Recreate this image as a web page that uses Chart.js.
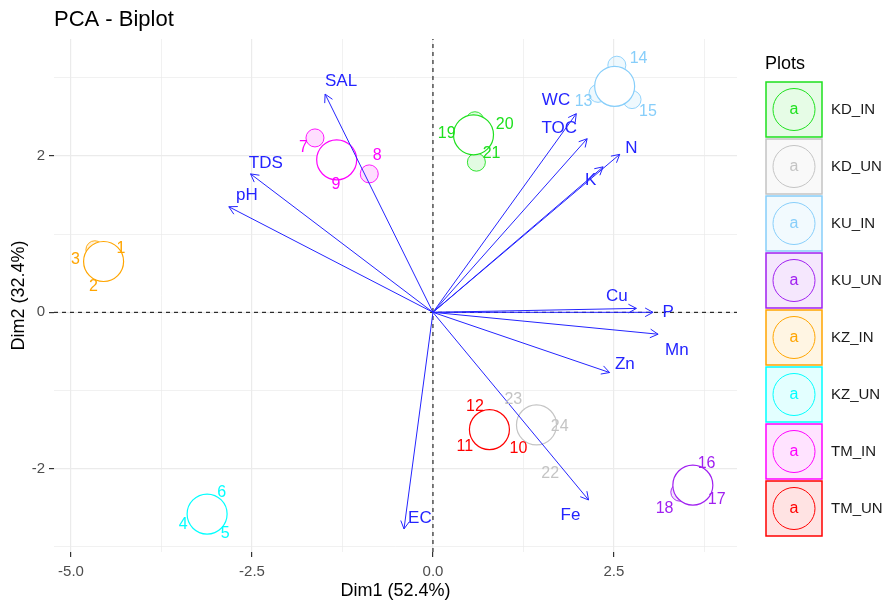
<!DOCTYPE html>
<html>
<head>
<meta charset="utf-8">
<script src="https://cdn.jsdelivr.net/npm/chart.js@4"></script>
<style>
  body { margin: 0; background: #fff; }
</style>
</head>
<body>
<canvas id="biplot" width="888" height="607"></canvas>
<script>
// groups (habillage)
const groups = ['KD_IN', 'KD_UN', 'KU_IN', 'KU_UN', 'KZ_IN', 'KZ_UN', 'TM_IN', 'TM_UN'];
const groupColors = ['#1EE01E', '#C4C4C4', '#87CEFA', '#A020F0', '#FFA500', '#00FFFF', '#FF00FF', '#FF0000'];
const centerX = [0.56, 1.43, 2.51, 3.59, -4.55, -3.12, -1.33, 0.78];
const centerY = [2.27, -1.44, 2.89, -2.21, 0.65, -2.58, 1.95, -1.50];

// individuals (labels)
const indNames = ['1','2','3','4','5','6','7','8','9','10','11','12',
                  '13','14','15','16','17','18','19','20','21','22','23','24'];
const indGroup = [4,4,4, 5,5,5, 6,6,6, 7,7,7, 2,2,2, 3,3,3, 0,0,0, 1,1,1];
const indX = [-4.31,-4.69,-4.94, -3.45,-2.87,-2.92, -1.79,-0.77,-1.34, 1.18,0.44,0.58,
              2.08,2.84,2.97, 3.78,3.92,3.20, 0.19,0.99,0.81, 1.62,1.11,1.75];
const indY = [0.82,0.33,0.67, -2.72,-2.83,-2.31, 2.10,2.01,1.63, -1.74,-1.72,-1.21,
              2.69,3.25,2.57, -1.93,-2.40,-2.51, 2.29,2.40,2.03, -2.06,-1.12,-1.46];

// small ellipse remnants around the group circles
const ellGroup = [6, 6, 0, 0, 2, 2, 2, 4, 3];
const ellX = [-1.63, -0.88, 0.58, 0.60, 2.54, 2.28, 2.75, -4.67, 3.41];
const ellY = [2.23, 1.77, 2.45, 1.92, 3.16, 2.80, 2.72, 0.80, -2.30];

// variables (arrows)
const varNames = ['SAL','TDS','pH','WC','TOC','N','K','Cu','P','Mn','Zn','Fe','EC'];
const varX = [-1.49,-2.52,-2.82,1.98,2.13,2.58,2.35,2.81,3.04,3.11,2.44,2.15,-0.40];
const varY = [2.79,1.77,1.35,2.54,2.22,2.02,1.86,0.05,0.00,-0.28,-0.77,-2.40,-2.77];
const varLabelX = [-1.27,-2.31,-2.57,1.70,1.745,2.74,2.18,2.54,3.25,3.37,2.65,1.90,-0.18];
const varLabelY = [2.96,1.91,1.50,2.71,2.35,2.10,1.69,0.20,0.00,-0.48,-0.67,-2.59,-2.64];

// axes
const xMajor = [-5, -2.5, 0, 2.5];
const xTicks = [-5, -3.75, -2.5, -1.25, 0, 1.25, 2.5, 3.75];
const yMajor = [-2, 0, 2];
const yTicks = [-3, -2, -1, 0, 1, 2, 3];
const xRange = [-5.235, 4.2];
const yRange = [-3.065, 3.495];

const FONT = "'Liberation Sans', Arial, sans-serif";
const BLUE = '#2424FF';
Chart.defaults.font.family = FONT;

function alpha(hex, a) {
  const n = parseInt(hex.slice(1), 16);
  return `rgba(${n >> 16},${(n >> 8) & 255},${n & 255},${a})`;
}

const datasets = [];
// dashed reference lines
datasets.push({
  type: 'line', data: [{x: 0, y: yRange[0]}, {x: 0, y: yRange[1]}],
  borderColor: '#000', borderWidth: 1, borderDash: [4, 4], pointRadius: 0, order: 40
});
datasets.push({
  type: 'line', data: [{x: xRange[0], y: 0}, {x: xRange[1], y: 0}],
  borderColor: '#000', borderWidth: 1, borderDash: [4, 4], pointRadius: 0, order: 40
});
// ellipse remnants
datasets.push({
  type: 'scatter',
  data: ellX.map((x, i) => ({x: x, y: ellY[i]})),
  pointRadius: 9,
  backgroundColor: ellGroup.map(g => alpha(groupColors[g], 0.13)),
  borderColor: ellGroup.map(g => groupColors[g]),
  borderWidth: 0.9, order: 30
});
// group circles
datasets.push({
  type: 'scatter',
  data: centerX.map((x, i) => ({x: x, y: centerY[i]})),
  pointRadius: 20,
  backgroundColor: '#fff',
  borderColor: groupColors,
  borderWidth: 1.2, order: 20
});
// arrows
varNames.forEach((v, i) => {
  datasets.push({
    type: 'line', data: [{x: 0, y: 0}, {x: varX[i], y: varY[i]}],
    borderColor: BLUE, borderWidth: 1, pointRadius: 0, order: 10
  });
});

const textPlugin = {
  id: 'texts',
  afterDatasetsDraw(chart) {
    const {ctx, scales: {x, y}} = chart;
    ctx.save();
    // arrow heads
    ctx.strokeStyle = BLUE;
    ctx.lineWidth = 1;
    varNames.forEach((v, i) => {
      const px = x.getPixelForValue(varX[i]), py = y.getPixelForValue(varY[i]);
      const ox = x.getPixelForValue(0), oy = y.getPixelForValue(0);
      const ang = Math.atan2(py - oy, px - ox);
      const len = 9;
      ctx.beginPath();
      ctx.moveTo(px - len * Math.cos(ang - 0.5), py - len * Math.sin(ang - 0.5));
      ctx.lineTo(px, py);
      ctx.lineTo(px - len * Math.cos(ang + 0.5), py - len * Math.sin(ang + 0.5));
      ctx.stroke();
    });
    ctx.textAlign = 'center';
    ctx.textBaseline = 'middle';
    // individual labels
    ctx.font = '16px ' + FONT;
    indNames.forEach((n, i) => {
      ctx.fillStyle = groupColors[indGroup[i]];
      ctx.fillText(n, x.getPixelForValue(indX[i]), y.getPixelForValue(indY[i]));
    });
    // variable labels
    ctx.font = '17px ' + FONT;
    ctx.fillStyle = BLUE;
    varNames.forEach((n, i) => {
      ctx.fillText(n, x.getPixelForValue(varLabelX[i]), y.getPixelForValue(varLabelY[i]));
    });
    ctx.restore();
  },
  afterDraw(chart) {
    const ctx = chart.ctx;
    ctx.save();
    // title
    ctx.fillStyle = '#000';
    ctx.font = '22px ' + FONT;
    ctx.textAlign = 'left';
    ctx.textBaseline = 'alphabetic';
    ctx.fillText('PCA - Biplot', 54, 26);
    // legend
    const lx = chart.chartArea.right + 29;
    ctx.font = '18px ' + FONT;
    ctx.textBaseline = 'middle';
    ctx.fillText('Plots', lx - 1, 64);
    groups.forEach((g, i) => {
      const top = 82 + i * 57;
      const col = groupColors[i];
      ctx.fillStyle = alpha(col, 0.11);
      ctx.fillRect(lx, top, 56, 55);
      ctx.strokeStyle = col;
      ctx.lineWidth = 1.5;
      ctx.strokeRect(lx, top, 56, 55);
      ctx.lineWidth = 1;
      ctx.beginPath();
      ctx.arc(lx + 28, top + 27.5, 21, 0, Math.PI * 2);
      ctx.stroke();
      ctx.fillStyle = col;
      ctx.font = '16px ' + FONT;
      ctx.textAlign = 'center';
      ctx.fillText('a', lx + 28, top + 28);
      ctx.fillStyle = '#1A1A1A';
      ctx.font = '15px ' + FONT;
      ctx.textAlign = 'left';
      ctx.fillText(g, lx + 65, top + 28);
    });
    ctx.restore();
  }
};

new Chart(document.getElementById('biplot'), {
  type: 'scatter',
  data: {datasets: datasets},
  plugins: [textPlugin],
  options: {
    responsive: false,
    animation: false,
    events: [],
    layout: {padding: {left: 0, right: 151, top: 39, bottom: 0}},
    plugins: {legend: {display: false}, tooltip: {enabled: false}},
    scales: {
      x: {
        type: 'linear', min: xRange[0], max: xRange[1],
        afterBuildTicks: s => { s.ticks = xTicks.map(v => ({value: v})); },
        afterFit: s => { s.height = 55; },
        border: {display: false},
        grid: {
          color: '#EBEBEB',
          lineWidth: c => xMajor.includes(c.tick.value) ? 1.2 : 0.7,
          tickColor: c => xMajor.includes(c.tick.value) ? '#333333' : 'rgba(0,0,0,0)',
          tickLength: 5
        },
        ticks: {
          color: '#4D4D4D', font: {size: 15}, padding: 6, maxRotation: 0, autoSkip: false,
          callback: v => xMajor.includes(v) ? v.toFixed(1) : ''
        },
        title: {display: true, text: 'Dim1 (52.4%)', color: '#000', font: {size: 18}, padding: {top: 0, bottom: 5}}
      },
      y: {
        type: 'linear', min: yRange[0], max: yRange[1],
        afterBuildTicks: s => { s.ticks = yTicks.map(v => ({value: v})); },
        afterFit: s => { s.width = 54; },
        border: {display: false},
        grid: {
          color: '#EBEBEB',
          lineWidth: c => yMajor.includes(c.tick.value) ? 1.2 : 0.7,
          tickColor: c => yMajor.includes(c.tick.value) ? '#333333' : 'rgba(0,0,0,0)',
          tickLength: 5
        },
        ticks: {
          color: '#4D4D4D', font: {size: 15}, padding: 4, autoSkip: false,
          callback: v => yMajor.includes(v) ? String(v) : ''
        },
        title: {display: true, text: 'Dim2 (32.4%)', color: '#000', font: {size: 18}, padding: {top: 8, bottom: 0}}
      }
    }
  }
});
</script>
</body>
</html>
